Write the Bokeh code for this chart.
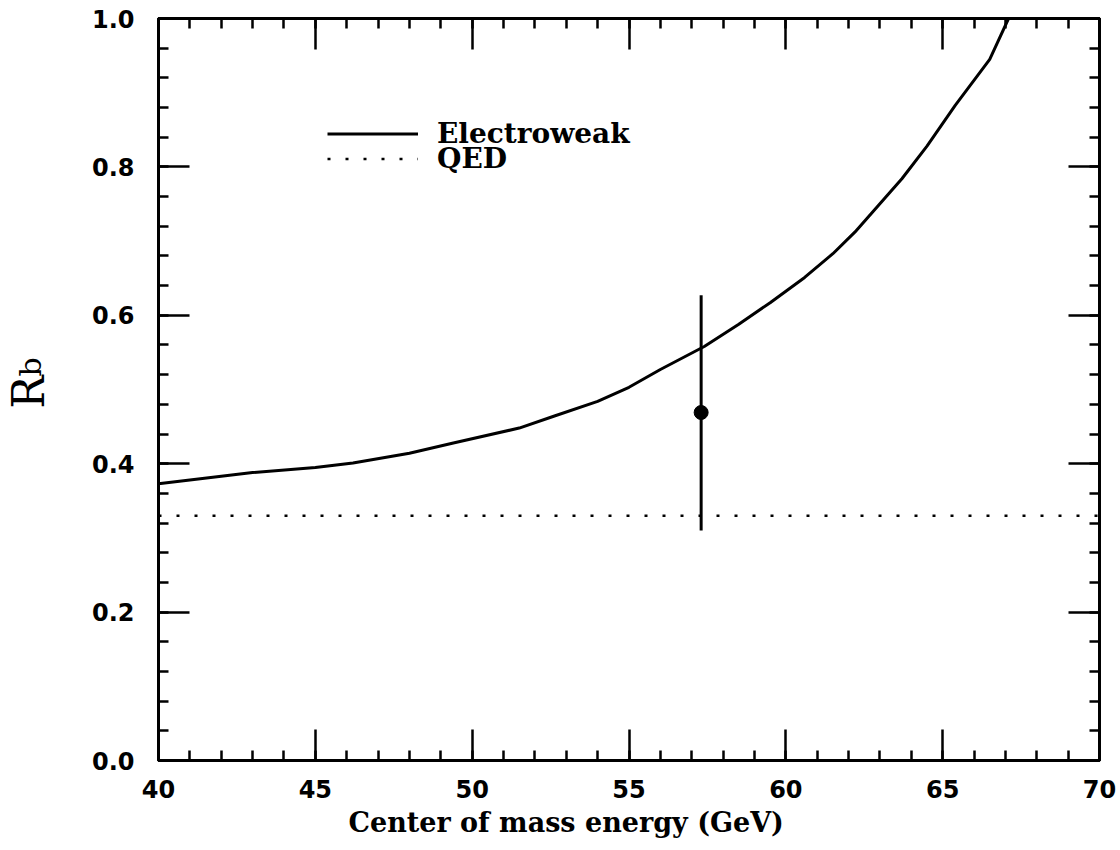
import math
from bokeh.plotting import figure
from bokeh.layouts import row
from bokeh.models import (Range1d, LinearAxis, SingleIntervalTicker, PrintfTickFormatter,
                          CustomJSTickFormatter, Legend, LegendItem, Title)
from bokeh.core.properties import value
from bokeh.embed import file_html
from bokeh.resources import INLINE

# ---- data ----
ew_energy = [40.0, 41.0, 43.0, 45.0, 46.2, 48.0, 49.4, 51.5, 52.6, 54.0, 55.0, 56.0,
             57.4, 58.5, 59.5, 60.6, 61.5, 62.2, 63.7, 64.5, 65.4, 66.5, 67.1]
ew_rb = [0.373, 0.378, 0.388, 0.395, 0.401, 0.414, 0.428, 0.448, 0.464, 0.484, 0.503, 0.527,
         0.558, 0.588, 0.617, 0.651, 0.683, 0.712, 0.784, 0.828, 0.883, 0.945, 1.0]
qed_energy = [40.0, 70.0]
qed_rb = [0.33, 0.33]
meas_energy = [57.3]
meas_rb = [0.469]
meas_lo = [0.310]
meas_hi = [0.627]

x_major_step = 5
y_major_step = 0.2
n_minor = 5

# ---- narrow strip that carries the rotated y-axis title R_b ----
lab = figure(width=60, height=850, x_range=Range1d(0, 60), y_range=Range1d(0, 850),
             output_backend="svg", toolbar_location=None, min_border=0,
             x_axis_location=None, y_axis_location=None, outline_line_color=None)
lab.grid.visible = False
lab.background_fill_color = "white"
lab.border_fill_color = "white"
lab.text(x=[28], y=[403], text=["R"], angle=math.pi / 2, text_font=value("DejaVu Serif"),
         text_font_size=value("44px"), text_align="left", text_baseline="alphabetic",
         text_color="black")
lab.text(x=[29.5], y=[440], text=["b"], angle=math.pi / 2, text_font=value("DejaVu Serif"),
         text_font_size=value("30px"), text_align="left", text_baseline="alphabetic",
         text_color="black")

# ---- main chart ----
p = figure(width=1060, height=850, x_range=Range1d(40, 70), y_range=Range1d(0, 1),
           output_backend="svg", toolbar_location=None,
           min_border_left=98, min_border_right=21, min_border_top=18, min_border_bottom=90)
p.grid.visible = False
p.outline_line_color = "black"
p.outline_line_width = 3
p.background_fill_color = "white"
p.border_fill_color = "white"

xt = SingleIntervalTicker(interval=x_major_step, num_minor_ticks=n_minor)
yt = SingleIntervalTicker(interval=y_major_step, num_minor_ticks=n_minor)


def style(ax):
    ax.axis_line_width = 3
    ax.axis_line_color = "black"
    ax.major_tick_line_width = 2.5
    ax.minor_tick_line_width = 2.5
    ax.major_tick_in = 31
    ax.major_tick_out = 0
    ax.minor_tick_in = 10
    ax.minor_tick_out = 0
    ax.major_label_text_font = "DejaVu Sans"
    ax.major_label_text_font_style = "bold"
    ax.major_label_text_font_size = "24px"
    ax.major_label_text_color = "black"


xa = p.xaxis[0]
xa.ticker = xt
xa.major_label_standoff = 19
style(xa)

ya = p.yaxis[0]
ya.ticker = yt
ya.formatter = PrintfTickFormatter(format="%.1f")
ya.major_label_standoff = 24
style(ya)

blank = CustomJSTickFormatter(code="return ''")
top = LinearAxis(ticker=xt, formatter=blank)
style(top)
p.add_layout(top, "above")
right = LinearAxis(ticker=yt, formatter=blank)
style(right)
p.add_layout(right, "right")

ew = p.line(ew_energy, ew_rb, line_color="black", line_width=3)
qed = p.line(qed_energy, qed_rb, line_color="black", line_width=2.5, line_dash="3 15")
p.segment(x0=meas_energy, y0=meas_lo, x1=meas_energy, y1=meas_hi, line_color="black", line_width=3)
p.scatter(meas_energy, meas_rb, size=14, color="black")

for lab_text, r, vy in [("Electroweak", ew, 610), ("QED", qed, 585)]:
    lg = Legend(items=[LegendItem(label=lab_text, renderers=[r])], location=(169, vy),
                padding=0, margin=0, spacing=0, glyph_width=91, glyph_height=25,
                label_height=25, label_standoff=19, border_line_alpha=0,
                background_fill_alpha=0, label_text_font="DejaVu Serif",
                label_text_font_style="bold", label_text_font_size="28px",
                label_text_color="black")
    p.add_layout(lg)

xlab = Title(text="Center of mass energy (GeV)", align="left", offset=190,
             text_font="DejaVu Serif", text_font_style="bold", text_font_size="27px",
             text_color="black", standoff=8)
p.add_layout(xlab, "below")

layout = row(lab, p)
open("out.html", "w").write(file_html(layout, INLINE))
